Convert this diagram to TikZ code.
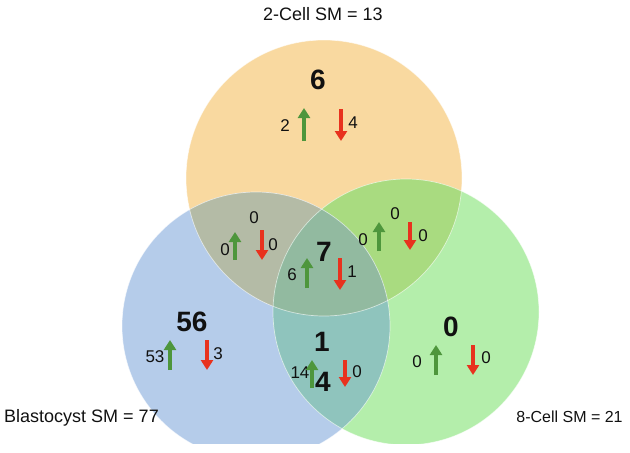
\documentclass[tikz,border=0pt]{standalone}
\usepackage{fontspec}
\setmainfont{Liberation Sans}
\usetikzlibrary{arrows.meta}
\definecolor{cO}{HTML}{F9D9A0}
\definecolor{cB}{HTML}{B5CCEA}
\definecolor{cGr}{HTML}{B4EEAB}
\definecolor{cOB}{HTML}{B4BBA6}
\definecolor{cOG}{HTML}{A9DB80}
\definecolor{cBG}{HTML}{8FC4BD}
\definecolor{cOBG}{HTML}{92BAA0}
\definecolor{arrG}{HTML}{4E963C}
\definecolor{arrR}{HTML}{E8321E}
\definecolor{txt}{HTML}{111111}
\def\circO{(324,178) circle[radius=138pt]}
\def\circB{(256,326) circle[radius=134pt]}
\def\circG{(406,312) circle[radius=133pt]}
\begin{document}
\begin{tikzpicture}[x=1pt,y=-1pt,
  big/.style={inner sep=0pt,text=txt,font=\fontsize{28}{28}\selectfont\bfseries},
  small/.style={inner sep=0pt,text=txt,font=\fontsize{17}{17}\selectfont},
  lab/.style={inner sep=0pt,text=txt,font=\fontsize{18}{18}\selectfont},
  uparr/.style={draw=arrG,line width=4pt,-{Triangle[width=12pt,length=10pt]}},
  dnarr/.style={draw=arrR,line width=4pt,-{Triangle[width=12pt,length=10pt]}},
  rim/.style={draw=white,line width=0.7pt,draw opacity=0.6}]
\useasboundingbox (0,0) rectangle (630,453);
\begin{scope}
\clip (0,0) rectangle (630,443);
\fill[cO] \circO;
\fill[cB] \circB;
\fill[cGr] \circG;
\begin{scope}\clip \circO; \fill[cOB] \circB; \end{scope}
\begin{scope}\clip \circO; \fill[cOG] \circG; \end{scope}
\begin{scope}\clip \circB; \fill[cBG] \circG; \end{scope}
\begin{scope}\clip \circO; \clip \circB; \fill[cOBG] \circG; \end{scope}
\draw[rim] \circO;
\draw[rim] \circB;
\draw[rim] \circG;
\end{scope}
% set labels
\node[lab] (lO) at (323,14) {2-Cell SM = 13};
\node[lab] (lB) at (81.5,418) {Blastocyst SM = 77};
\node[inner sep=0pt,text=txt,font=\fontsize{16}{16}\selectfont] (lG) at (569.5,417) {8-Cell SM = 21};
% orange only
\node[big] (nO) at (318,80) {6};
\node[small] (nOu) at (285,126) {2};
\node[small] (nOd) at (353,123) {4};
\coordinate (aO1) at (304,141); \coordinate (aO2) at (304,108);
\coordinate (aO3) at (341,109); \coordinate (aO4) at (341,141);
\draw[uparr] (aO1) -- (aO2);
\draw[dnarr] (aO3) -- (aO4);
% orange-blue
\node[small] (nOB) at (254,218) {0};
\node[small] (nOBu) at (225,250) {0};
\node[small] (nOBd) at (273,245) {0};
\coordinate (aOB1) at (235,260); \coordinate (aOB2) at (235,232);
\coordinate (aOB3) at (262,230); \coordinate (aOB4) at (262,260);
\draw[uparr] (aOB1) -- (aOB2);
\draw[dnarr] (aOB3) -- (aOB4);
% centre
\node[big] (nC) at (324,252) {7};
\node[small] (nCu) at (292,275) {6};
\node[small] (nCd) at (352,272) {1};
\coordinate (aC1) at (307,288); \coordinate (aC2) at (307,258);
\coordinate (aC3) at (340,258); \coordinate (aC4) at (340,290);
\draw[uparr] (aC1) -- (aC2);
\draw[dnarr] (aC3) -- (aC4);
% orange-green
\node[small] (nOG) at (395,214) {0};
\node[small] (nOGu) at (363,240) {0};
\node[small] (nOGd) at (423,236) {0};
\coordinate (aOG1) at (379,251); \coordinate (aOG2) at (379,222);
\coordinate (aOG3) at (410,222); \coordinate (aOG4) at (410,250);
\draw[uparr] (aOG1) -- (aOG2);
\draw[dnarr] (aOG3) -- (aOG4);
% blue only
\node[big] (nB) at (192,322) {56};
\node[small] (nBu) at (155,357) {53};
\node[small] (nBd) at (218,354) {3};
\coordinate (aB1) at (170,370); \coordinate (aB2) at (170,340);
\coordinate (aB3) at (207,340); \coordinate (aB4) at (207,370);
\draw[uparr] (aB1) -- (aB2);
\draw[dnarr] (aB3) -- (aB4);
% blue-green
\node[big] (nBG1) at (322,342) {1};
\node[small] (nBGu) at (300,373) {14};
\coordinate (aBG1) at (312,388); \coordinate (aBG2) at (312,360);
\draw[uparr] (aBG1) -- (aBG2);
\node[big] (nBG2) at (323,382) {4};
\node[small] (nBGd) at (357,372) {0};
\coordinate (aBG3) at (345,360); \coordinate (aBG4) at (345,387);
\draw[dnarr] (aBG3) -- (aBG4);
% green only
\node[big] (nG) at (451,327) {0};
\node[small] (nGu) at (417,362) {0};
\node[small] (nGd) at (486,358) {0};
\coordinate (aG1) at (436,375); \coordinate (aG2) at (436,345);
\coordinate (aG3) at (473,345); \coordinate (aG4) at (473,375);
\draw[uparr] (aG1) -- (aG2);
\draw[dnarr] (aG3) -- (aG4);
\end{tikzpicture}
\end{document}
